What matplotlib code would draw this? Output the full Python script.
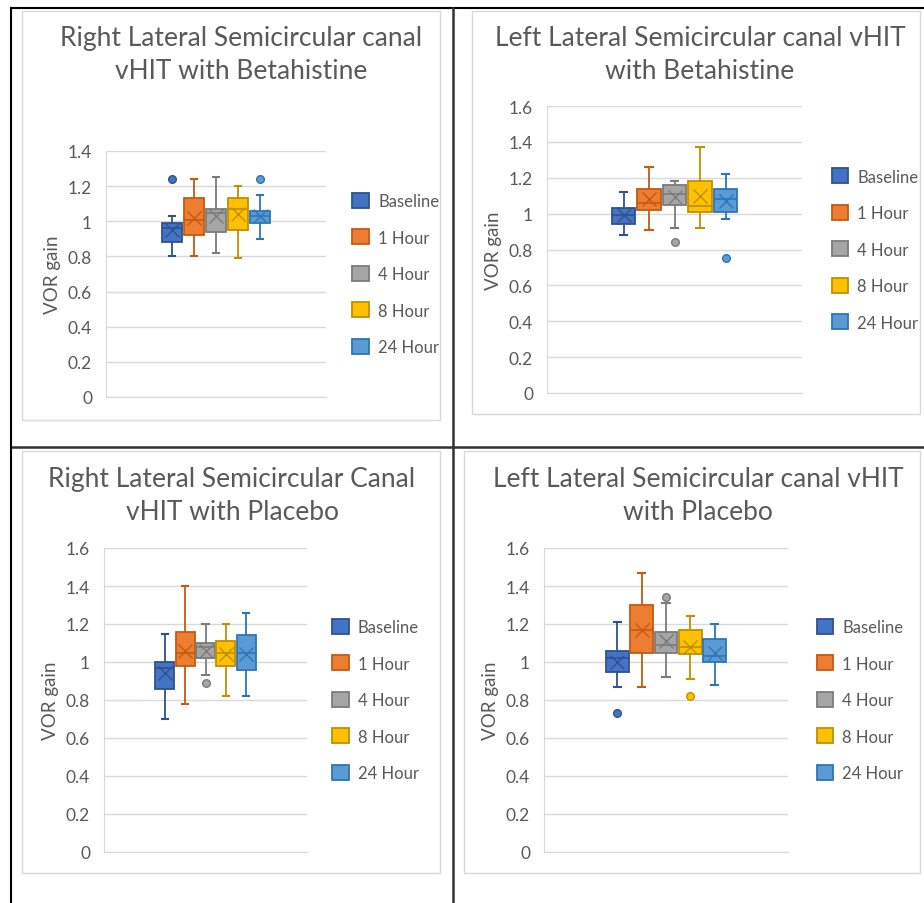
import matplotlib.pyplot as plt
from matplotlib.lines import Line2D
from matplotlib.patches import Patch, Rectangle

plt.rcParams['font.family'] = ['Lato', 'DejaVu Sans']

# groups / colours
labels = ['Baseline', '1 Hour', '4 Hour', '8 Hour', '24 Hour']
fill = ['#4472C4', '#ED7D31', '#A5A5A5', '#FFC000', '#5B9BD5']
edge = ['#2F528F', '#C55A11', '#7B7B7B', '#BF9000', '#2E75B6']

#Right lateral, betahistine
rb_lo = [0.80, 0.80, 0.82, 0.79, 0.90]
rb_q1 = [0.88, 0.92, 0.94, 0.95, 0.99]
rb_med = [0.96, 1.01, 1.05, 1.07, 1.03]
rb_q3 = [0.99, 1.13, 1.07, 1.13, 1.06]
rb_hi = [1.03, 1.24, 1.25, 1.20, 1.15]
rb_mean = [0.95, 1.02, 1.03, 1.04, 1.03]
rb_out = [[1.24], [], [], [], [1.24]]

#Left lateral, betahistine
lb_lo = [0.88, 0.91, 0.92, 0.92, 0.97]
lb_q1 = [0.94, 1.02, 1.05, 1.01, 1.01]
lb_med = [0.99, 1.06, 1.11, 1.04, 1.08]
lb_q3 = [1.03, 1.14, 1.16, 1.18, 1.14]
lb_hi = [1.12, 1.26, 1.18, 1.37, 1.22]
lb_mean = [0.99, 1.08, 1.09, 1.10, 1.07]
lb_out = [[], [], [0.84], [], [0.75]]

#Right lateral, placebo
rp_lo = [0.70, 0.78, 0.93, 0.82, 0.82]
rp_q1 = [0.86, 0.98, 1.02, 0.98, 0.96]
rp_med = [0.97, 1.05, 1.08, 1.05, 1.05]
rp_q3 = [1.00, 1.16, 1.10, 1.11, 1.14]
rp_hi = [1.15, 1.40, 1.20, 1.20, 1.26]
rp_mean = [0.94, 1.06, 1.06, 1.04, 1.04]
rp_out = [[], [], [0.89], [], []]

#Left lateral, placebo
lp_lo = [0.87, 0.87, 0.92, 0.91, 0.88]
lp_q1 = [0.95, 1.05, 1.05, 1.04, 1.00]
lp_med = [1.02, 1.17, 1.09, 1.08, 1.03]
lp_q3 = [1.06, 1.30, 1.16, 1.17, 1.12]
lp_hi = [1.21, 1.47, 1.31, 1.24, 1.20]
lp_mean = [1.00, 1.17, 1.11, 1.08, 1.05]
lp_out = [[0.73], [], [1.34], [0.82], []]

W, H = 924, 904
fig = plt.figure(figsize=(W / 100, H / 100), dpi=100)
txt = '#595959'


def fx(x):
    return x / W


def fy(y):
    return 1 - y / H


def panel(box, title, tcx, tcy, ymax, lo, q1, med, q3, hi, mean, out):
    x0, y0, x1, y1 = box
    ax = fig.add_axes([fx(x0), fy(y1), fx(x1) - fx(x0), fy(y0) - fy(y1)])
    for i in range(len(labels)):
        st = dict(whislo=lo[i], q1=q1[i], med=med[i], q3=q3[i], whishi=hi[i],
                  mean=mean[i], fliers=out[i], label=labels[i])
        ax.bxp([st], positions=[i], widths=0.93, patch_artist=True,
               showmeans=True, capwidths=0.3,
               boxprops=dict(facecolor=fill[i], edgecolor=edge[i], linewidth=1.3),
               medianprops=dict(color=edge[i], linewidth=1.2),
               whiskerprops=dict(color=edge[i], linewidth=1.3),
               capprops=dict(color=edge[i], linewidth=1.5),
               meanprops=dict(marker='x', markeredgecolor=edge[i], markersize=10,
                              markeredgewidth=1.0),
               flierprops=dict(marker='o', markerfacecolor=fill[i],
                               markeredgecolor=edge[i], markersize=5.5))
    ax.set_xlim(-3, 7)
    ax.set_ylim(0, ymax)
    ticks = [round(0.2 * k, 1) for k in range(int(round(ymax / 0.2)) + 1)]
    ax.set_yticks(ticks)
    ax.set_yticklabels(['0' if t == 0 else ('1' if t == 1 else str(t)) for t in ticks])
    ax.set_xticks([])
    ax.grid(axis='y', color='#D9D9D9', linewidth=1.0)
    ax.set_axisbelow(True)
    for s in ['top', 'right']:
        ax.spines[s].set_visible(False)
    ax.spines['left'].set_color('#D9D9D9')
    ax.spines['bottom'].set_color('#D9D9D9')
    ax.tick_params(axis='y', length=0, labelsize=12.5, colors=txt, pad=10)
    ax.set_ylabel('VOR gain', fontsize=13.5, color=txt, labelpad=5)
    handles = [Patch(facecolor=fill[i], edgecolor=edge[i], linewidth=1.3, label=labels[i])
               for i in range(len(labels))]
    ax.legend(handles=handles, loc='center left', bbox_to_anchor=(1.09, 0.5),
              frameon=False, fontsize=12, labelcolor=txt, handlelength=1.0,
              handleheight=1.0, handletextpad=0.55, labelspacing=1.22,
              borderaxespad=0)
    fig.text(fx(tcx), fy(tcy), title, ha='center', va='center', fontsize=19,
             color=txt, linespacing=1.38)
    return ax


panel((106, 152, 326, 398), 'Right Lateral Semicircular canal\nvHIT with Betahistine',
      241, 55, 1.4, rb_lo, rb_q1, rb_med, rb_q3, rb_hi, rb_mean, rb_out)
panel((547, 107, 802, 394), 'Left Lateral Semicircular canal vHIT\nwith Betahistine',
      700, 55, 1.6, lb_lo, lb_q1, lb_med, lb_q3, lb_hi, lb_mean, lb_out)
panel((104, 549, 307, 853), 'Right Lateral Semicircular Canal\nvHIT with Placebo',
      232, 496, 1.6, rp_lo, rp_q1, rp_med, rp_q3, rp_hi, rp_mean, rp_out)
panel((544, 549, 788, 853), 'Left Lateral Semicircular canal vHIT\nwith Placebo',
      698, 496, 1.6, lp_lo, lp_q1, lp_med, lp_q3, lp_hi, lp_mean, lp_out)

# chart-area frames
for (a, b, c, d) in [(22, 12, 440, 421), (472, 12, 920, 415),
                     (22, 452, 440, 874), (464, 452, 920, 874)]:
    fig.add_artist(Rectangle((fx(a), fy(d)), fx(c) - fx(a), fy(b) - fy(d),
                             transform=fig.transFigure, fill=False,
                             edgecolor='#D9D9D9', linewidth=1.0))

# black grid lines of the figure
fig.add_artist(Line2D([fx(11), fx(924)], [fy(9), fy(9)], color='black', linewidth=1.5))
fig.add_artist(Line2D([fx(11), fx(924)], [fy(448), fy(448)], color='#333333', linewidth=1.8))
fig.add_artist(Line2D([fx(11), fx(11)], [fy(9), fy(904)], color='black', linewidth=1.5))
fig.add_artist(Line2D([fx(453), fx(453)], [fy(9), fy(904)], color='#333333', linewidth=1.8))

fig.savefig('out.png', dpi=100)
